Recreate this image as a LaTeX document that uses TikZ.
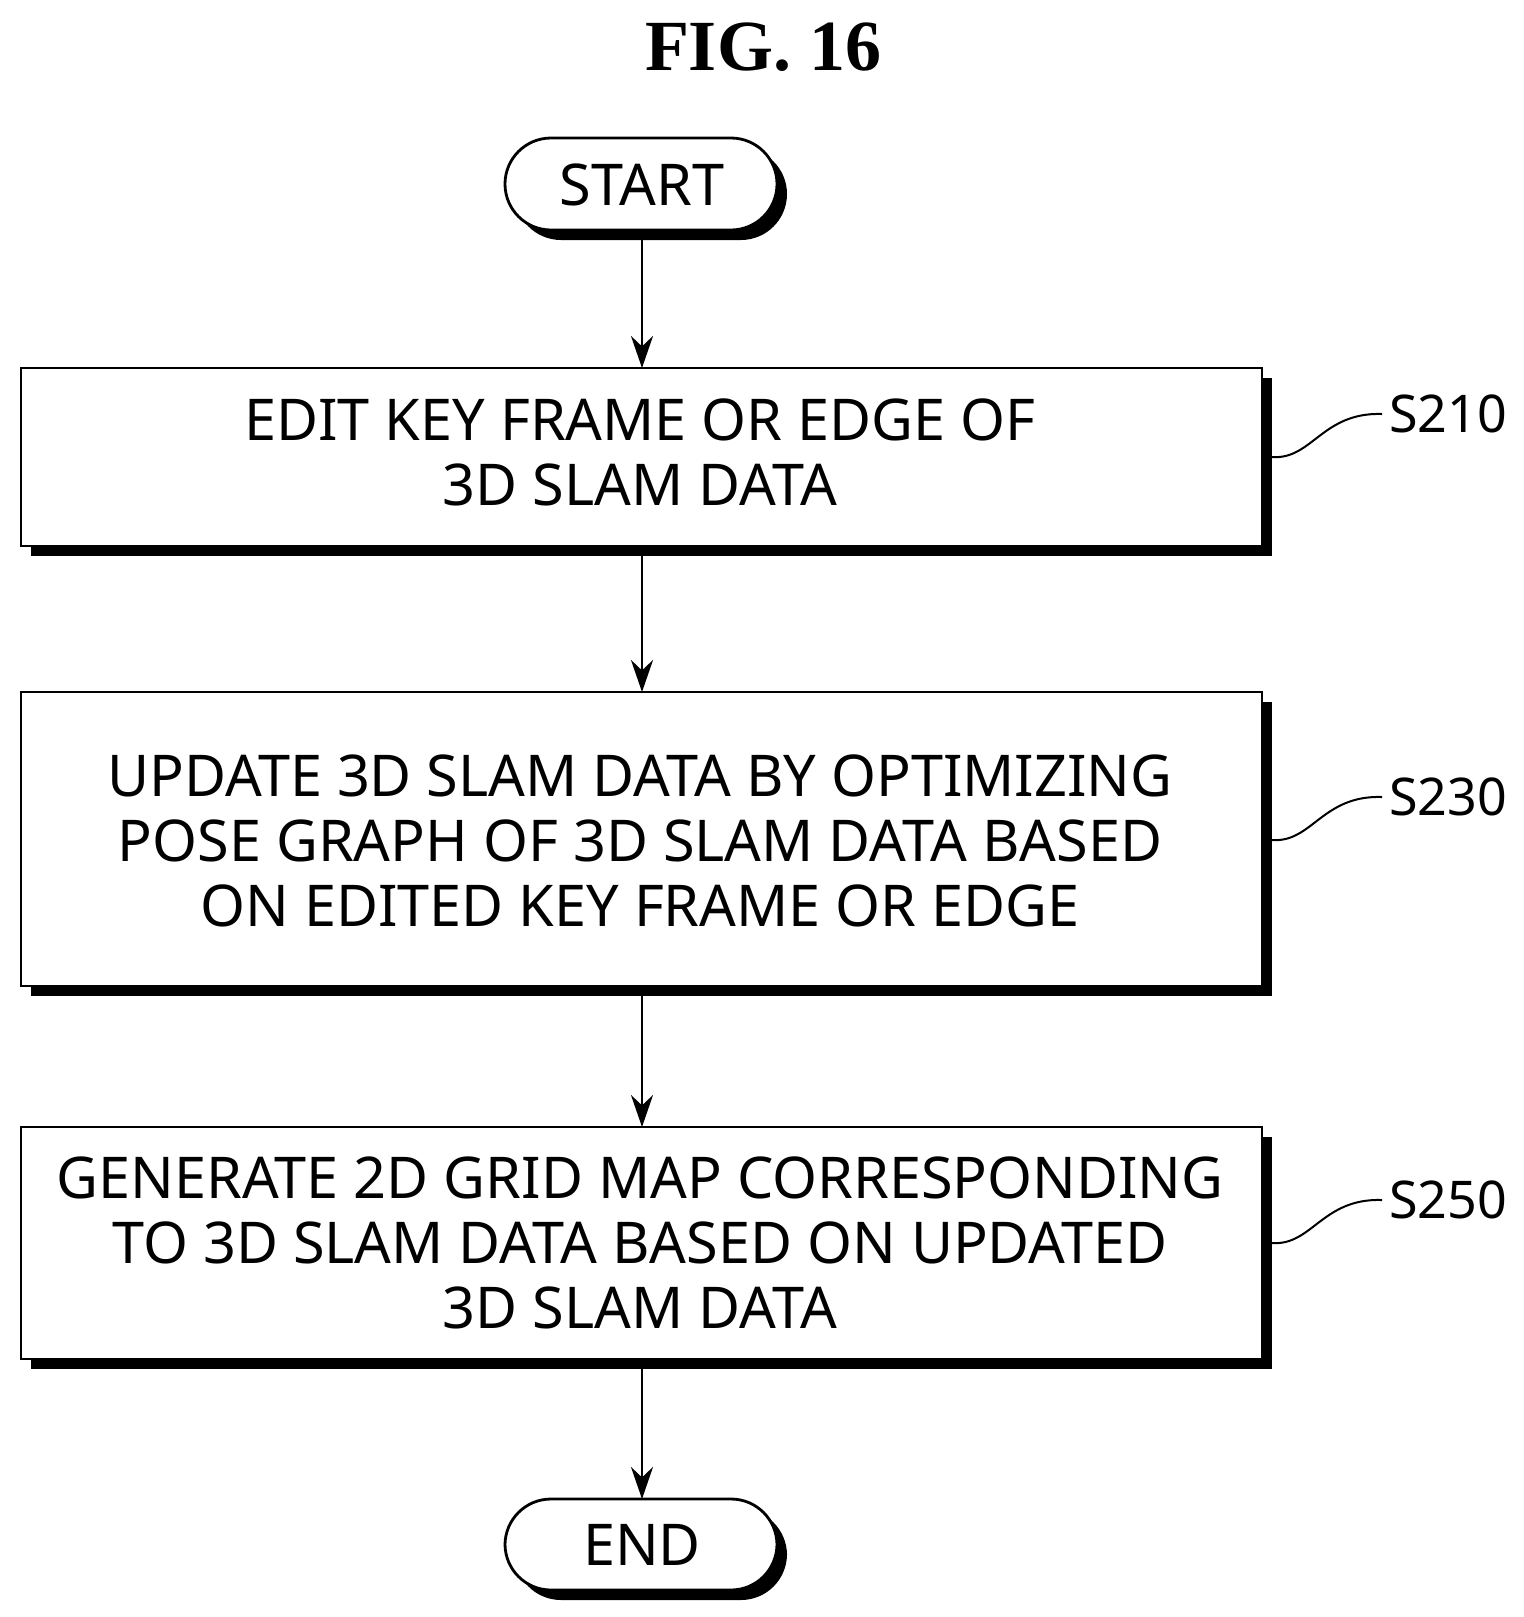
\documentclass[tikz,border=0pt]{standalone}
\usepackage{fontspec}
\setmainfont{Liberation Serif}
\newfontfamily\boxfont{Noto Sans}
\usetikzlibrary{arrows.meta}
\begin{document}
\begin{tikzpicture}[x=0.5pt,y=-0.5pt,
  txt/.style={font=\boxfont\fontsize{28.8}{32.5}\selectfont, align=center},
  box/.style={draw, line width=1.4pt, fill=white},
  shad/.style={fill=black},
  arr/.style={line width=1.3pt, -{Stealth[length=16pt,width=11pt]}},
  sq/.style={line width=1pt},
  lab/.style={font=\boxfont\fontsize{26}{30}\selectfont, anchor=west}]
\useasboundingbox (0,0) rectangle (1524,1617);
\node[font=\fontsize{36}{40}\selectfont\bfseries] (title) at (763,47) {FIG. 16};
% START
\fill[shad, rounded corners=23pt] (515,148) rectangle (787,240);
\draw[box, rounded corners=23pt] (505,138) rectangle (777,230);
\node[txt] (start) at (642,185) {START};
\coordinate (startb) at (642,230);
% END
\fill[shad, rounded corners=23pt] (515,1509) rectangle (787,1600);
\draw[box, rounded corners=23pt] (505,1499) rectangle (777,1590);
\node[txt] (end) at (642,1545) {END};
\coordinate (endt) at (642,1499);
% boxes
\fill[shad] (31,378) rectangle (1272,556);
\draw[box] (21,368) rectangle (1262,546);
\node[txt] (b1) at (640,452) {EDIT KEY FRAME OR EDGE OF\\3D SLAM DATA};
\fill[shad] (31,702) rectangle (1272,996);
\draw[box] (21,692) rectangle (1262,986);
\node[txt] (b2) at (640,841) {UPDATE 3D SLAM DATA BY OPTIMIZING\\POSE GRAPH OF 3D SLAM DATA BASED\\ON EDITED KEY FRAME OR EDGE};
\fill[shad] (31,1137) rectangle (1272,1369);
\draw[box] (21,1127) rectangle (1262,1359);
\node[txt] (b3) at (640,1243) {GENERATE 2D GRID MAP CORRESPONDING\\TO 3D SLAM DATA BASED ON UPDATED\\3D SLAM DATA};
% arrows
\draw[arr] (startb) -- (642,368);
\draw[arr] (642,556) -- (642,692);
\draw[arr] (642,996) -- (642,1127);
\draw[arr] (642,1369) -- (endt);
% labels
\node[lab] (s1) at (1382,414) {S210};
\node[lab] (s2) at (1382,797) {S230};
\node[lab] (s3) at (1382,1200) {S250};
\draw[sq] (1272,457) .. controls (1312,460) and (1322,412) .. (s1.west);
\draw[sq] (1272,840) .. controls (1312,843) and (1322,795) .. (s2.west);
\draw[sq] (1272,1243) .. controls (1312,1246) and (1322,1198) .. (s3.west);
\end{tikzpicture}
\end{document}
